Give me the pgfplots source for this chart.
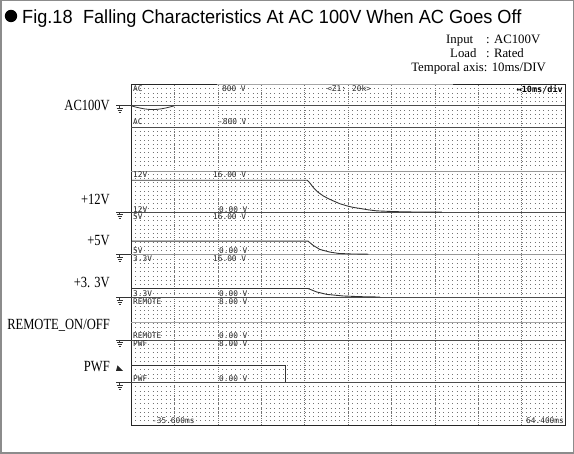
\documentclass[border=0pt]{standalone}
\usepackage{pgfplots}
\usepackage{pgfplotstable}
\pgfplotsset{compat=1.18}
\usepackage{fontspec}
\setmainfont{Liberation Serif}
\newfontfamily\titlefont[FakeStretch=0.955]{Liberation Sans}
\newfontfamily\chfont[FakeStretch=0.81]{Liberation Serif}
\newfontfamily\scopefont{DejaVu Sans Mono}

% Recorded channels: time t in ms (trigger at 0), value v in volts
\pgfplotstableread{
t v
-35.6 0
-34.6 -43.6
-33.6 -82.9
-32.6 -114.1
-31.6 -134.1
-30.6 -141
-29.6 -134.1
-28.6 -114.1
-27.6 -82.9
-26.6 -43.6
-25.6 0
}\acdata

\pgfplotstableread{
t v
-35.6 12.0
5.0 12.0
5.6 11.0
6.4 9.3
7.5 7.5
8.7 6.1
10.0 5.0
11.0 4.25
12.5 3.2
14.1 2.4
15.6 1.8
17.2 1.4
19.0 0.9
21.0 0.5
24.5 0.25
28.0 0.1
36.0 0.0
}\twelvev

\pgfplotstableread{
t v
-35.6 5.1
5.2 5.1
6.4 3.5
7.9 2.0
10.2 1.0
12.2 0.5
15.0 0.3
19.1 0.2
}\fivev

\pgfplotstableread{
t v
-35.6 3.3
5.2 3.3
7.2 2.0
9.5 1.1
13.3 0.5
17.0 0.25
21.8 0.1
}\threev

\pgfplotstableread{
t v
-35.6 3.3
64.4 3.3
}\remote

\pgfplotstableread{
t v
-35.6 3.1
0.0 3.1
0.0 0.0
}\pwf

% channel label inside the screen: x, y from the top, text
\newcommand\scr[3]{\node[anchor=west, inner sep=0pt, text=black!85,
  font=\scopefont\fontsize{7.8}{8}\selectfont] at (#1,{454-#2}) {#3};}
% channel name at the left
\newcommand\chn[2]{\node[anchor=base east, inner sep=0pt,
  font=\chfont\fontsize{15.5}{15.5}\selectfont] at (110,{454-#1}) {#2};}

\begin{document}
\begin{tikzpicture}[x=1pt,y=1pt]
\path[use as bounding box] (0,0) rectangle (574,454);
\draw[black!45, line width=1.5pt] (0.75,0.75) rectangle (573.25,453.25);

% title
\fill (11,438) circle (6.2);
\node[anchor=base west, inner sep=0pt, font=\titlefont\fontsize{19}{19}\selectfont]
  at (22,{454-24}) {Fig.18\hspace{0.55em}Falling Characteristics At AC 100V When AC Goes Off};

% measurement conditions
\begin{scope}[every node/.style={inner sep=0pt, font=\fontsize{12.8}{12.8}\selectfont}]
\node[anchor=base west] at (446,{454-44}) {Input};
\node[anchor=base west] at (486,{454-44}) {: AC100V};
\node[anchor=base west] at (450,{454-58}) {Load};
\node[anchor=base west] at (486,{454-58}) {: Rated};
\node[anchor=base east] at (546,{454-72}) {Temporal axis: 10ms/DIV};
\end{scope}

\begin{axis}[
  at={(131pt,29pt)}, anchor=south west,
  scale only axis, width=434pt, height=340.5pt,
  xmin=-35.6, xmax=64.4, ymin=0, ymax=8,
  xtick={-25.6,-15.6,-5.6,4.4,14.4,24.4,34.4,44.4,54.4},
  ytick={0,1,2,3,4,5,6,7,8},
  minor y tick num=9,
  xticklabels={}, yticklabels={},
  major tick length=0pt, minor tick length=0pt,
  xmajorgrids, yminorgrids,
  major x grid style={black!55, line width=0.5pt, dash pattern=on 0.8pt off 1.4pt},
  minor y grid style={black!55, line width=0.6pt, dash pattern=on 0.8pt off 3.54pt},
  axis line style={black!85, line width=0.9pt},
  clip=false,
]
% channel base lines
\pgfplotsinvokeforeach{1,2,3,5,7,7.5}{
  \addplot[black!70, line width=0.7pt, forget plot] coordinates {(-35.6,#1) (64.4,#1)};
}
\addplot[black!40, line width=0.7pt, forget plot] coordinates {(-35.6,4) (64.4,4)};
\addplot[black!40, line width=0.7pt, forget plot] coordinates {(-35.6,5.95) (64.4,5.95)};

% AC input: 1600 V/div, zero at 7.5 div
\addplot[black!80, line width=0.8pt, smooth] table[x=t, y expr=7.5+\thisrow{v}/1600] {\acdata};
% +12V: 16 V/div, zero at 5 div
\addplot[black!80, line width=0.9pt] table[x=t, y expr=5+\thisrow{v}/16] {\twelvev};
% +5V: 16 V/div, zero at 4 div
\addplot[black!80, line width=0.9pt] table[x=t, y expr=4+\thisrow{v}/16] {\fivev};
% +3.3V: 16 V/div, zero at 3 div
\addplot[black!80, line width=0.9pt] table[x=t, y expr=3+\thisrow{v}/16] {\threev};
% REMOTE_ON/OFF: 8 V/div, zero at 2 div
\addplot[black!35, line width=0.7pt] table[x=t, y expr=2+\thisrow{v}/8] {\remote};
% PWF: 8 V/div, zero at 1 div
\addplot[black!80, line width=0.9pt] table[x=t, y expr=1+\thisrow{v}/8] {\pwf};
\end{axis}

% lighter part of the screen's top edge
\draw[white, line width=1.3pt] (217,369.5) -- (453,369.5);
\draw[black!35, line width=0.6pt] (217,369.5) -- (453,369.5);

% ground marks at each channel's zero level
\foreach \d in {7.5,5,4,3,2,1} {
  \pgfmathsetmacro\yy{29+42.5625*\d}
  \draw[black!80, line width=0.6pt] (116,\yy) -- (131,\yy);
  \draw[black!80, line width=0.6pt] (119.5,\yy) -- (119.5,\yy-2.5)
    (116.5,\yy-2.5) -- (122.5,\yy-2.5)
    (117.5,\yy-4.5) -- (121.5,\yy-4.5)
    (118.5,\yy-6.5) -- (120.5,\yy-6.5);
}
% trigger mark on PWF
\fill[black!85] (116,83) -- (123,83) -- (117.5,88.5) -- cycle;

% channel names
\chn{111}{AC100V}
\chn{205}{+12V}
\chn{246}{+5V}
\chn{288}{+3. 3V}
\chn{330}{REMOTE\_ON/OFF}
\chn{372}{PWF}

% screen annotations
\scr{133}{88.5}{AC}
\scr{222}{88.5}{800 V}
\scr{327}{88.5}{<Z1: 20k>}
\node[anchor=east, inner sep=0pt, font=\scopefont\bfseries\fontsize{8.5}{8.5}\selectfont]
  at (563,{454-89}) {↔10ms/div};
\scr{133}{121.5}{AC}
\scr{218}{121.5}{-800 V}
\scr{133}{175}{12V}
\scr{213}{175}{16.00 V}
\scr{133}{209.5}{12V}
\scr{219}{209.5}{0.00 V}
\scr{133}{217}{5V}
\scr{213}{217}{16.00 V}
\scr{133}{251}{5V}
\scr{219}{251}{0.00 V}
\scr{133}{259}{3.3V}
\scr{213}{259}{16.00 V}
\scr{133}{293.5}{3.3V}
\scr{219}{293.5}{0.00 V}
\scr{133}{302}{REMOTE}
\scr{219}{302}{8.00 V}
\scr{133}{336}{REMOTE}
\scr{219}{336}{0.00 V}
\scr{133}{344}{PWF}
\scr{219}{344}{8.00 V}
\scr{133}{379}{PWF}
\scr{219}{379}{0.00 V}
\scr{152}{421}{-35.600ms}
\node[anchor=east, inner sep=0pt, text=black!85, font=\scopefont\fontsize{7.8}{8}\selectfont]
  at (564,{454-421}) {64.400ms};
\end{tikzpicture}
\end{document}
